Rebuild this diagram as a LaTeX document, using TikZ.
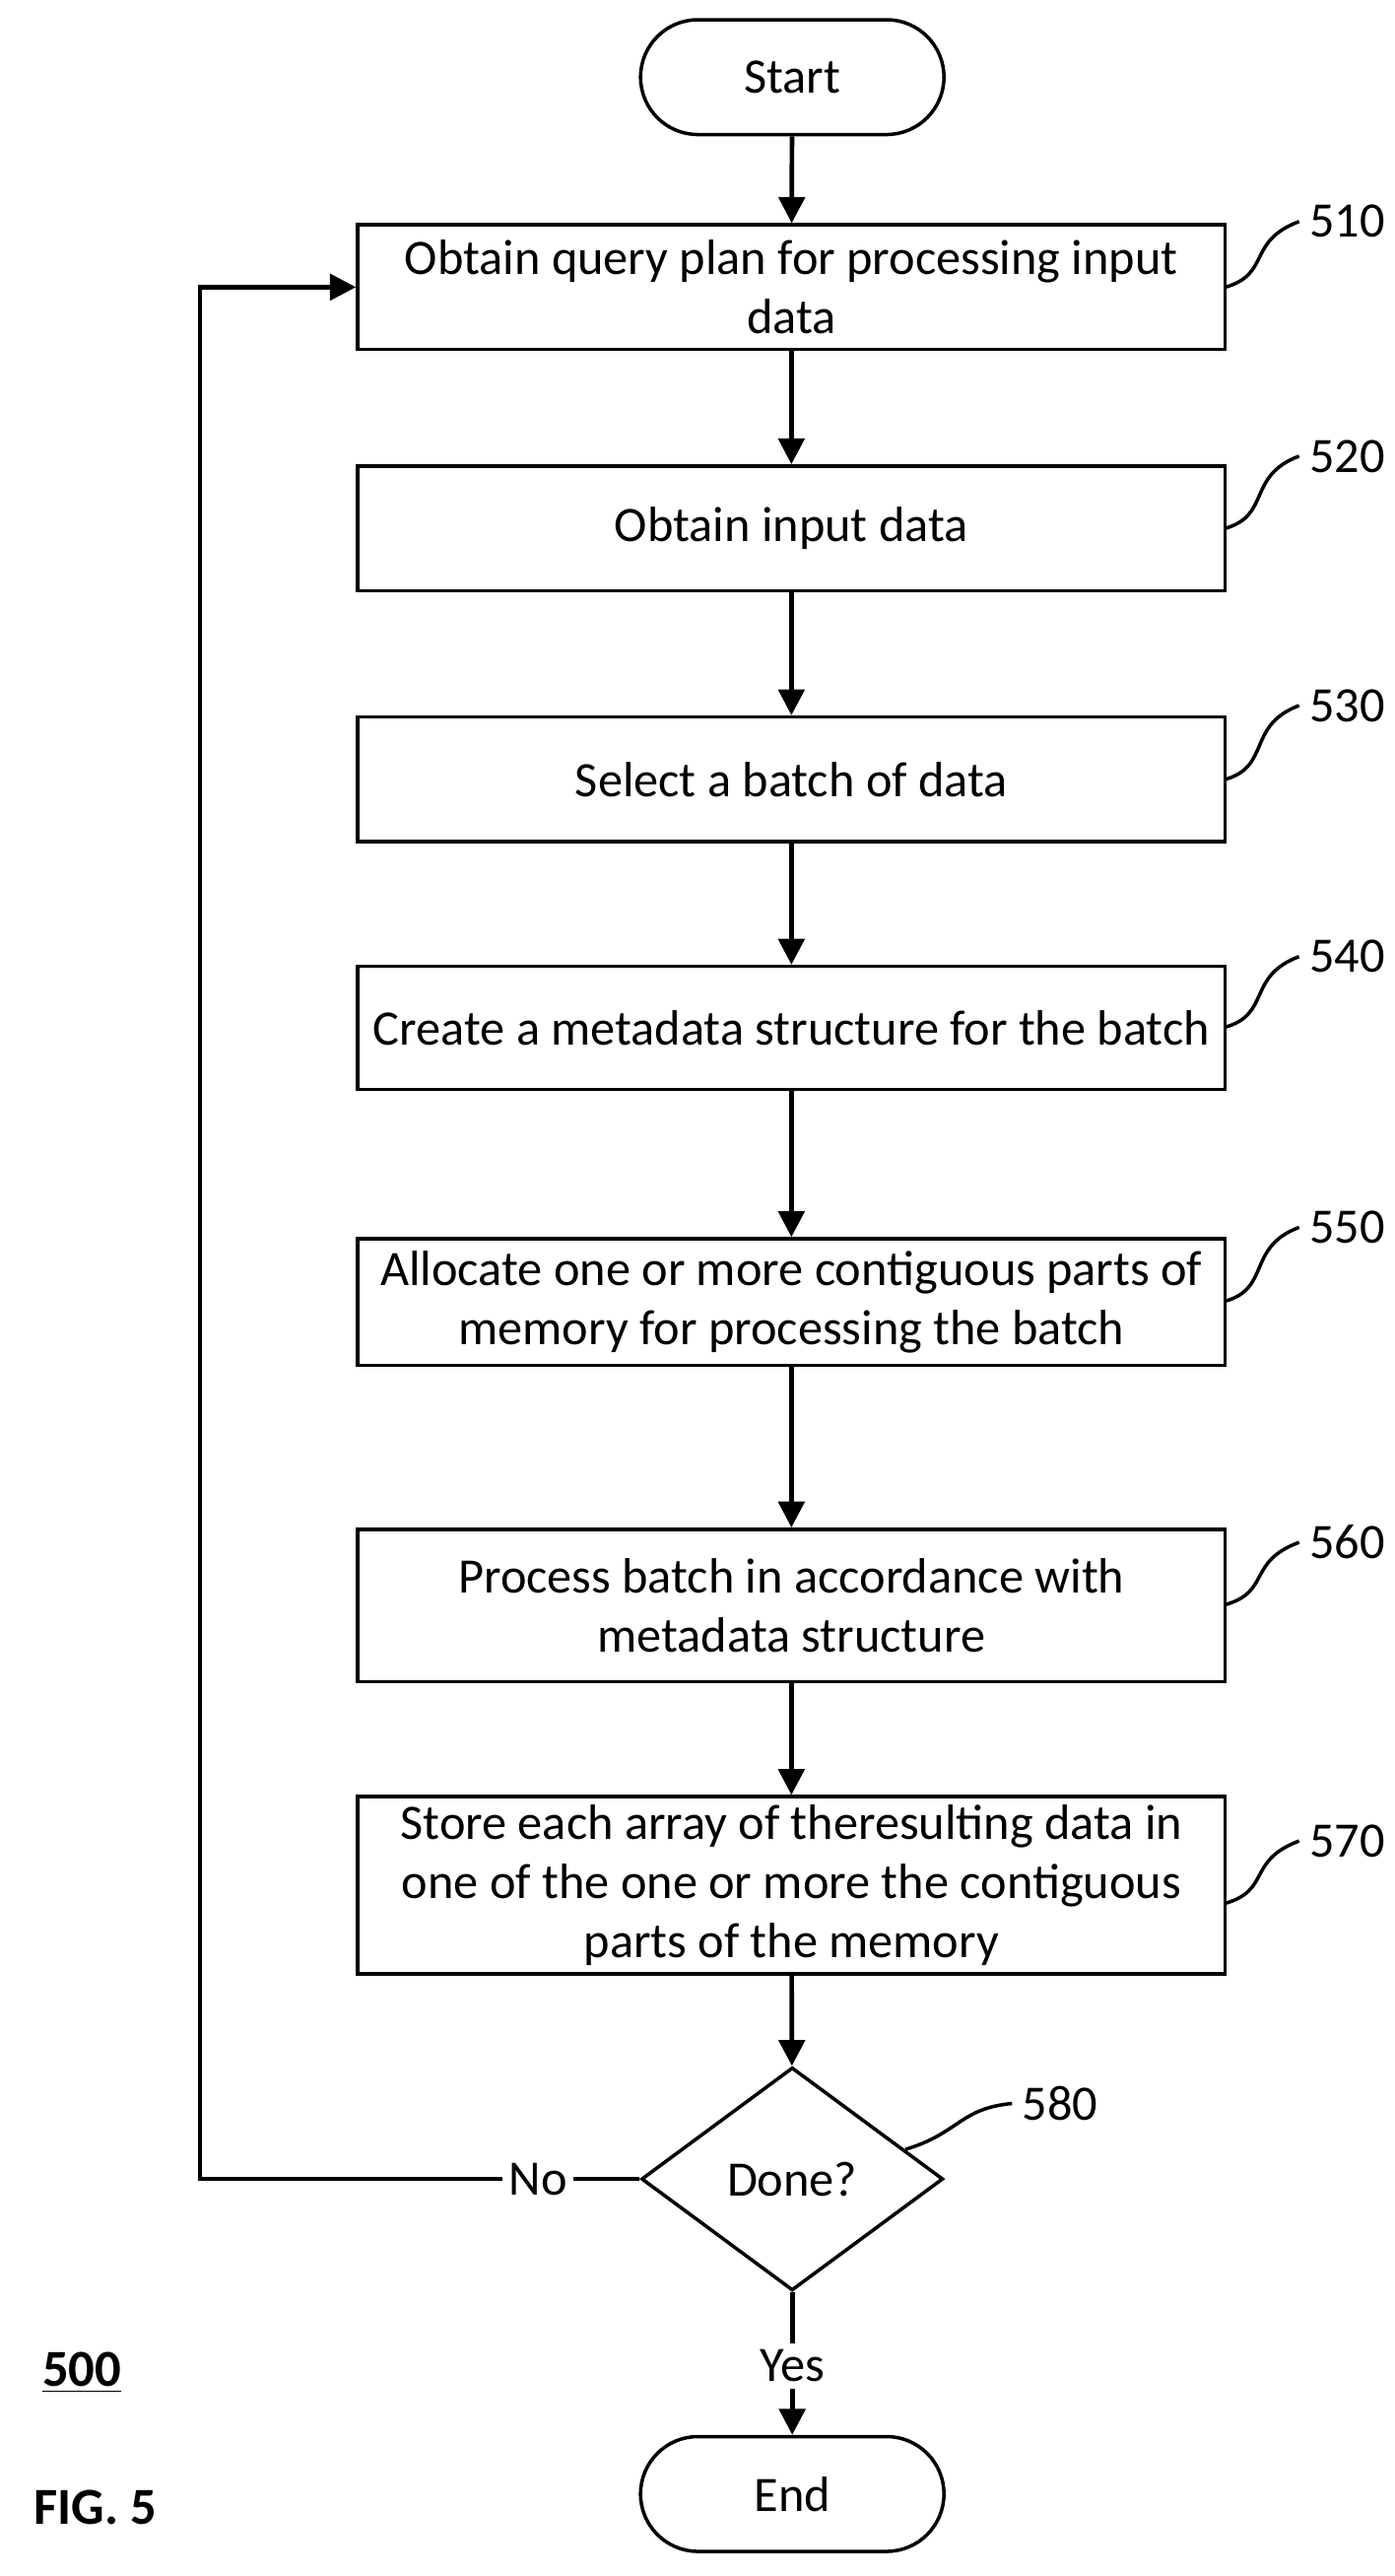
\documentclass[tikz,border=0pt]{standalone}
\usepackage{fontspec}
\setmainfont{Carlito}
\usetikzlibrary{shapes.geometric,arrows.meta}
\begin{document}
\begin{tikzpicture}[x=0.02cm,y=-0.02cm,
  every node/.style={font=\fontsize{17.2}{20.5}\selectfont},
  box/.style={draw,line width=1.2pt,minimum width=10.58cm,align=center,inner sep=0pt},
  term/.style={draw,line width=1.2pt,rounded corners=0.7cm,minimum width=3.7cm,minimum height=1.4cm},
  arr/.style={line width=1.6pt,-{Triangle[length=9pt,width=9pt]}},
  sq/.style={line width=1.2pt},
  lbl/.style={font=\fontsize{17.2}{20}\selectfont}]
\useasboundingbox (0,0) rectangle (850,1570);
\node[term] (start) at (483,47) {Start};
\node[box,minimum height=1.52cm] (b510) at (482.5,175) {Obtain query plan for processing input\\data};
\node[box,minimum height=1.52cm] (b520) at (482.5,322) {Obtain input data};
\node[box,minimum height=1.52cm] (b530) at (482.5,475) {Select a batch of data};
\node[box,minimum height=1.5cm] (b540) at (482.5,626.5) {Create a metadata structure for the batch};
\node[box,minimum height=1.54cm] (b550) at (482.5,793.5) {Allocate one or more contiguous parts of\\memory for processing the batch};
\node[box,minimum height=1.86cm] (b560) at (482.5,978.5) {Process batch in accordance with\\metadata structure};
\node[box,minimum height=2.16cm] (b570) at (482.5,1149) {Store each array of theresulting data in\\one of the one or more the contiguous\\parts of the memory};
\node[draw,line width=1.2pt,diamond,aspect=1.353,minimum width=3.68cm,minimum height=2.72cm,inner sep=0pt] (d580) at (483,1328) {Done?};
\node[term] (end) at (483,1520) {End};
\draw[arr] (start) -- (b510);
\draw[arr] (b510) -- (b520);
\draw[arr] (b520) -- (b530);
\draw[arr] (b530) -- (b540);
\draw[arr] (b540) -- (b550);
\draw[arr] (b550) -- (b560);
\draw[arr] (b560) -- (b570);
\draw[arr] (b570) -- (d580);
\node[fill=white,inner sep=2pt] (yes) at (483,1442) {Yes};
\draw[line width=1.6pt] (d580.south) -- (yes.north);
\draw[arr] (yes.south) -- (end.north);
\node[fill=white,inner sep=2pt] (no) at (328,1328) {No};
\coordinate (c1) at (122,1328);
\coordinate (c2) at (122,175);
\draw[line width=1.6pt] (d580.west) -- (no.east);
\draw[arr] (no.west) -- (c1) -- (c2) -- (b510.west);
\foreach \n/\y/\ly in {510/175/135,520/322/278,530/475/430,540/626/583,550/793/748,560/978/940,570/1160/1122}{
  \node[lbl,anchor=west] (l\n) at (792,\ly) {\n};
  \draw[sq] (747,\y) .. controls (775,\y-8) and (760,\ly+12) .. (l\n.west);
}
\node[lbl,anchor=west] (l580) at (617,1282) {580};
\draw[sq] (552,1310) .. controls (585,1300) and (585,1285) .. (l580.west);
\node[font=\fontsize{18}{20}\selectfont\bfseries] (n500) at (50,1446) {\underline{500}};
\node[font=\fontsize{18}{20}\selectfont\bfseries] (fig) at (58,1528) {FIG. 5};
\end{tikzpicture}
\end{document}
